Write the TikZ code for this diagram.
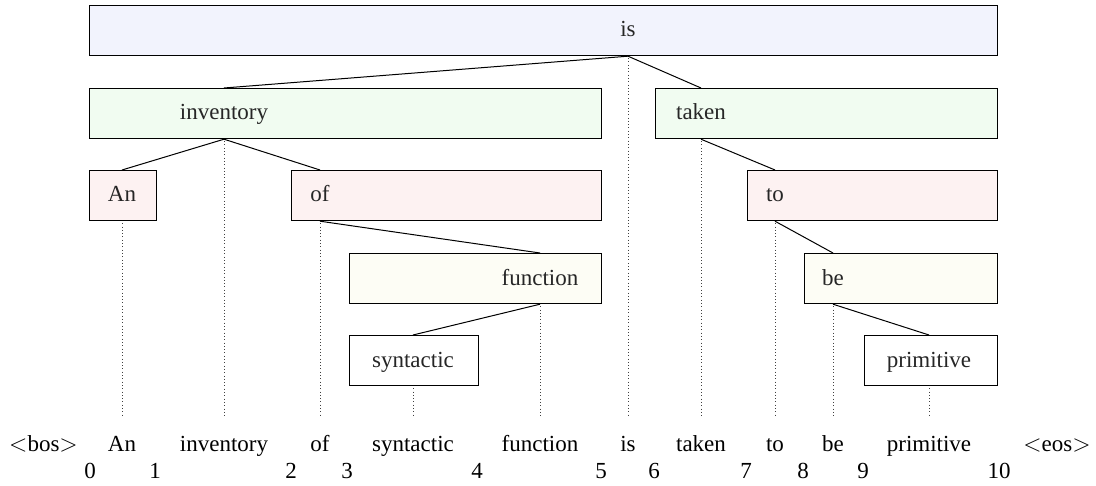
\documentclass[tikz,border=0pt]{standalone}
\usepackage{fontspec}
\setmainfont{Liberation Serif}
\definecolor{cOne}{RGB}{242,243,253}
\definecolor{cTwo}{RGB}{241,252,241}
\definecolor{cThree}{RGB}{253,242,242}
\definecolor{cFour}{RGB}{253,253,245}
\begin{document}
\begin{tikzpicture}[x=0.5pt,y=-0.5pt, font=\fontsize{11.5}{14}\selectfont,
 box/.style={draw=black, line width=0.6pt, inner sep=0pt, minimum height=25pt, anchor=north west},
 lbl/.style={inner sep=0pt, anchor=base, text=black!85},
 word/.style={inner sep=0pt, anchor=base, text height=0.7em, text depth=0.2em},
 num/.style={inner sep=0pt, anchor=base},
 edge/.style={line width=0.5pt},
 proj/.style={line width=0.45pt, black!75, dash pattern=on 0.45pt off 1.2pt, shorten >=10pt, shorten <=1pt}]
\useasboundingbox (0,0) rectangle (1096,486);
% boxes
\node[box, fill=cOne,   minimum width=454pt]  (bIs)  at (89,5) {};
\node[box, fill=cTwo,   minimum width=256pt]  (bInv) at (89,88) {};
\node[box, fill=cTwo,   minimum width=171pt]  (bTak) at (655,88) {};
\node[box, fill=cThree, minimum width=33.5pt] (bAn)  at (89,170) {};
\node[box, fill=cThree, minimum width=155pt]  (bOf)  at (291,170) {};
\node[box, fill=cThree, minimum width=125pt]  (bTo)  at (747,170) {};
\node[box, fill=cFour,  minimum width=126pt]  (bFun) at (349,253) {};
\node[box, fill=cFour,  minimum width=96.5pt] (bBe)  at (804,253) {};
\node[box, fill=white,  minimum width=64.5pt] (bSyn) at (349,335) {};
\node[box, fill=white,  minimum width=66.5pt] (bPri) at (864,335) {};
% labels
\node[lbl] (tIs)  at (628,37) {is};
\node[lbl] (tInv) at (224,120) {inventory};
\node[lbl] (tTak) at (701,120) {taken};
\node[lbl] (tAn)  at (122,202) {An};
\node[lbl] (tOf)  at (320,202) {of};
\node[lbl] (tTo)  at (775,202) {to};
\node[lbl] (tFun) at (540,285) {function};
\node[lbl] (tBe)  at (833,285) {be};
\node[lbl] (tSyn) at (413,367) {syntactic};
\node[lbl] (tPri) at (929,367) {primitive};
% words
\node[word] (wBos) at (43.5,451) {$<$bos$>$};
\node[word] (wAn)  at (122,451) {An};
\node[word] (wInv) at (224,451) {inventory};
\node[word] (wOf)  at (320,451) {of};
\node[word] (wSyn) at (413,451) {syntactic};
\node[word] (wFun) at (540,451) {function};
\node[word] (wIs)  at (628,451) {is};
\node[word] (wTak) at (701,451) {taken};
\node[word] (wTo)  at (775,451) {to};
\node[word] (wBe)  at (833,451) {be};
\node[word] (wPri) at (929,451) {primitive};
\node[word] (wEos) at (1057,451) {$<$eos$>$};
% numbers
\node[num] (n0)  at (90,478) {0};
\node[num] (n1)  at (155,478) {1};
\node[num] (n2)  at (291,478) {2};
\node[num] (n3)  at (347,478) {3};
\node[num] (n4)  at (477,478) {4};
\node[num] (n5)  at (601,478) {5};
\node[num] (n6)  at (654,478) {6};
\node[num] (n7)  at (746,478) {7};
\node[num] (n8)  at (803,478) {8};
\node[num] (n9)  at (863,478) {9};
\node[num] (n10) at (999,478) {10};
% tree edges
\draw[edge] (tIs |- bIs.south) -- (tInv |- bInv.north);
\draw[edge] (tIs |- bIs.south) -- (tTak |- bTak.north);
\draw[edge] (tInv |- bInv.south) -- (tAn |- bAn.north);
\draw[edge] (tInv |- bInv.south) -- (tOf |- bOf.north);
\draw[edge] (tTak |- bTak.south) -- (tTo |- bTo.north);
\draw[edge] (tOf |- bOf.south) -- (tFun |- bFun.north);
\draw[edge] (tTo |- bTo.south) -- (tBe |- bBe.north);
\draw[edge] (tFun |- bFun.south) -- (tSyn |- bSyn.north);
\draw[edge] (tBe |- bBe.south) -- (tPri |- bPri.north);
% projections
\draw[proj] (tIs |- bIs.south) -- (wIs.north);
\draw[proj] (tInv |- bInv.south) -- (wInv.north);
\draw[proj] (tTak |- bTak.south) -- (wTak.north);
\draw[proj] (tAn |- bAn.south) -- (wAn.north);
\draw[proj] (tOf |- bOf.south) -- (wOf.north);
\draw[proj] (tTo |- bTo.south) -- (wTo.north);
\draw[proj] (tFun |- bFun.south) -- (wFun.north);
\draw[proj] (tBe |- bBe.south) -- (wBe.north);
\draw[proj] (tSyn |- bSyn.south) -- (wSyn.north);
\draw[proj] (tPri |- bPri.south) -- (wPri.north);
\end{tikzpicture}
\end{document}
